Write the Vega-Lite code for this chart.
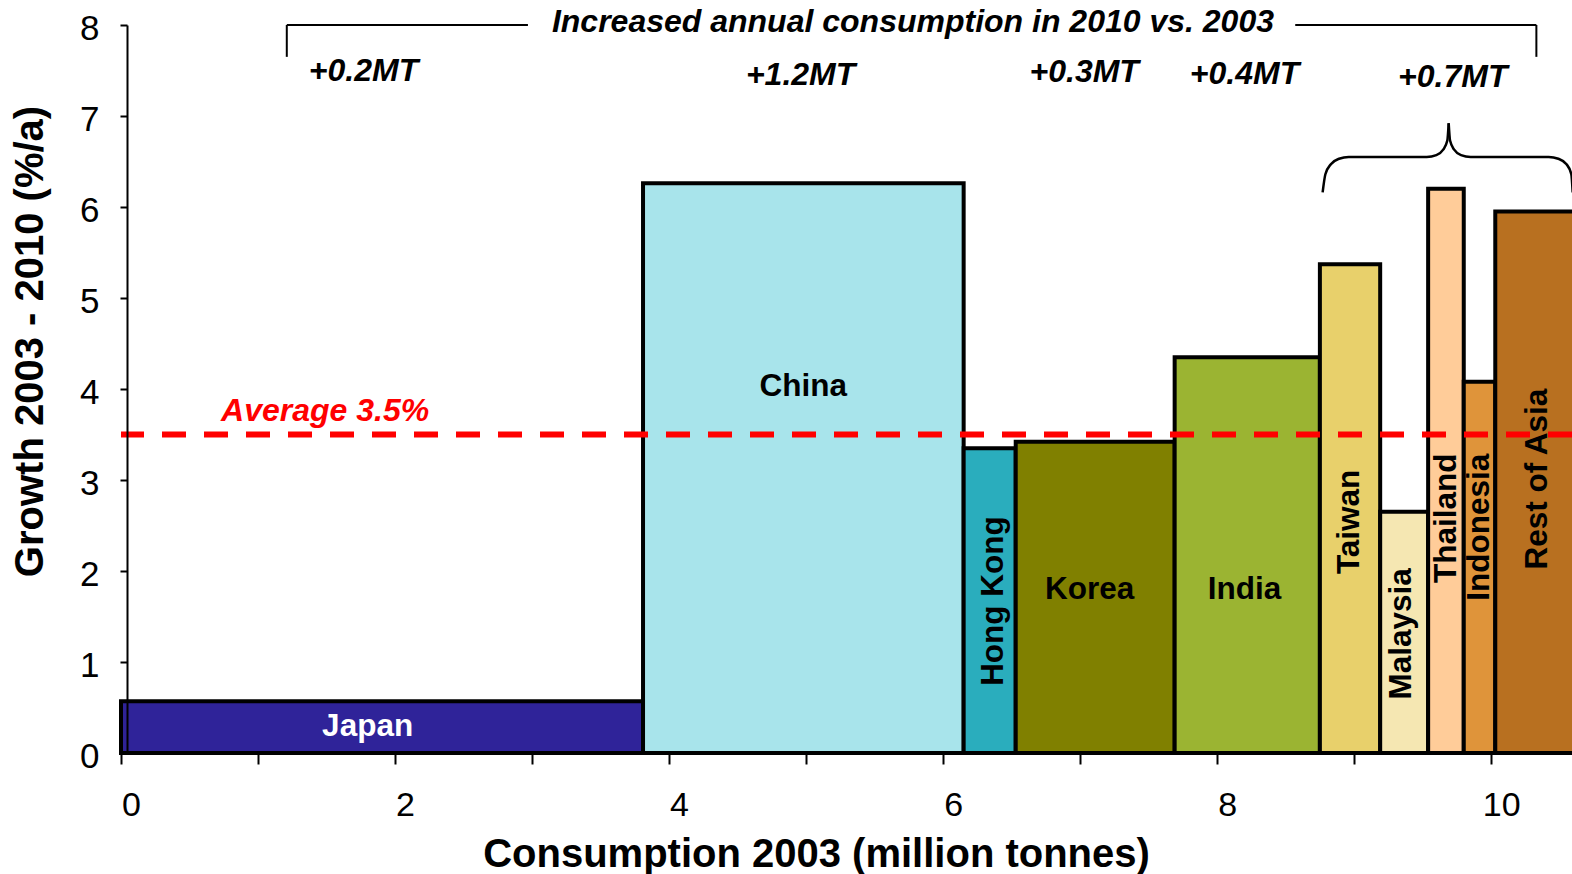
{
  "$schema": "https://vega.github.io/schema/vega-lite/v6.json",
  "width": 1451,
  "height": 728,
  "autosize": "none",
  "padding": {"left": 121, "top": 25, "right": 0, "bottom": 121},
  "background": "white",
  "config": {
    "view": {"stroke": null},
    "font": "Liberation Sans",
    "text": {"font": "Liberation Sans"}
  },
  "datasets": {
    "bars": [
      {"country": "Japan", "start": 0, "end": 3.81, "growth": 0.57},
      {"country": "China", "start": 3.81, "end": 6.15, "growth": 6.26},
      {"country": "Hong Kong", "start": 6.15, "end": 6.53, "growth": 3.35},
      {"country": "Korea", "start": 6.53, "end": 7.69, "growth": 3.42},
      {"country": "India", "start": 7.69, "end": 8.75, "growth": 4.35},
      {"country": "Taiwan", "start": 8.75, "end": 9.19, "growth": 5.37},
      {"country": "Malaysia", "start": 9.19, "end": 9.54, "growth": 2.65},
      {"country": "Thailand", "start": 9.54, "end": 9.8, "growth": 6.2},
      {"country": "Indonesia", "start": 9.8, "end": 10.03, "growth": 4.08},
      {"country": "Rest of Asia", "start": 10.03, "end": 10.62, "growth": 5.95}
    ],
    "barLabels": [
      {"country": "Japan", "lx": 1.8, "ly": 0.29},
      {"country": "China", "lx": 4.98, "ly": 4.02},
      {"country": "Hong Kong", "lx": 6.37, "ly": 1.67},
      {"country": "Korea", "lx": 7.07, "ly": 1.79},
      {"country": "India", "lx": 8.2, "ly": 1.79},
      {"country": "Taiwan", "lx": 8.97, "ly": 2.54},
      {"country": "Malaysia", "lx": 9.35, "ly": 1.31},
      {"country": "Thailand", "lx": 9.68, "ly": 2.58},
      {"country": "Indonesia", "lx": 9.92, "ly": 2.48},
      {"country": "Rest of Asia", "lx": 10.34, "ly": 3.01}
    ],
    "increase": [
      {"text": "Increased annual consumption in 2010 vs. 2003", "lx": 5.78, "ly": 8.03},
      {"text": "+0.2MT", "lx": 1.77, "ly": 7.49},
      {"text": "+1.2MT", "lx": 4.96, "ly": 7.45},
      {"text": "+0.3MT", "lx": 7.03, "ly": 7.48},
      {"text": "+0.4MT", "lx": 8.2, "ly": 7.46},
      {"text": "+0.7MT", "lx": 9.72, "ly": 7.43}
    ],
    "bracket": [
      {"x": 1.21, "x2": 1.21, "y": 7.65, "y2": 8.0},
      {"x": 1.21, "x2": 2.97, "y": 8.0, "y2": 8.0},
      {"x": 8.57, "x2": 10.33, "y": 8.0, "y2": 8.0},
      {"x": 10.33, "x2": 10.33, "y": 8.0, "y2": 7.65}
    ],
    "brace": [
      {"side": "left", "i": 0, "x": 8.77, "y": 6.16},
      {"side": "left", "i": 1, "x": 8.79, "y": 6.36},
      {"side": "left", "i": 2, "x": 8.83, "y": 6.47},
      {"side": "left", "i": 3, "x": 8.89, "y": 6.53},
      {"side": "left", "i": 4, "x": 8.96, "y": 6.55},
      {"side": "left", "i": 5, "x": 9.53, "y": 6.55},
      {"side": "left", "i": 6, "x": 9.6, "y": 6.57},
      {"side": "left", "i": 7, "x": 9.65, "y": 6.63},
      {"side": "left", "i": 8, "x": 9.68, "y": 6.73},
      {"side": "left", "i": 9, "x": 9.69, "y": 6.92},
      {"side": "right", "i": 0, "x": 9.69, "y": 6.92},
      {"side": "right", "i": 1, "x": 9.7, "y": 6.73},
      {"side": "right", "i": 2, "x": 9.73, "y": 6.63},
      {"side": "right", "i": 3, "x": 9.78, "y": 6.57},
      {"side": "right", "i": 4, "x": 9.85, "y": 6.55},
      {"side": "right", "i": 5, "x": 10.42, "y": 6.55},
      {"side": "right", "i": 6, "x": 10.49, "y": 6.53},
      {"side": "right", "i": 7, "x": 10.55, "y": 6.47},
      {"side": "right", "i": 8, "x": 10.585, "y": 6.36},
      {"side": "right", "i": 9, "x": 10.595, "y": 6.16}
    ],
    "average": [
      {"text": "Average 3.5%", "value": 3.5, "lx": 1.49, "ly": 3.76}
    ]
  },
  "layer": [
    {
      "data": {"name": "bars"},
      "mark": {"type": "rect", "stroke": "black", "strokeWidth": 4},
      "encoding": {
        "x": {
          "field": "start",
          "type": "quantitative",
          "title": "Consumption 2003 (million tonnes)",
          "scale": {"domain": [0, 10.59], "nice": false, "zero": true},
          "axis": {
            "title": "Consumption 2003 (million tonnes)",
            "values": [0, 1, 2, 3, 4, 5, 6, 7, 8, 9, 10],
            "format": "d",
            "labelExpr": "datum.value % 2 === 0 ? datum.label : ''",
            "grid": false,
            "domain": true,
            "domainColor": "black",
            "domainWidth": 2,
            "ticks": true,
            "tickColor": "black",
            "tickWidth": 2,
            "tickSize": 11,
            "labelFont": "Liberation Sans",
            "labelFontSize": 34,
            "labelColor": "black",
            "labelPadding": 24,
            "labelOffset": 10,
            "labelFlush": false,
            "labelOverlap": false,
            "titleFont": "Liberation Sans",
            "titleFontSize": 40,
            "titleFontWeight": "bold",
            "titleColor": "black",
            "titleAlign": "center",
            "titleBaseline": "alphabetic",
            "titleX": 695,
            "titleY": 113,
            "zindex": 1
          }
        },
        "x2": {"field": "end"},
        "y": {
          "field": "growth",
          "type": "quantitative",
          "title": "Growth 2003 - 2010 (%/a)",
          "scale": {"domain": [0, 8], "nice": false},
          "axis": {
            "title": "Growth 2003 - 2010 (%/a)",
            "values": [0, 1, 2, 3, 4, 5, 6, 7, 8],
            "format": "d",
            "grid": false,
            "offset": -6,
            "domain": true,
            "domainColor": "black",
            "domainWidth": 2,
            "ticks": true,
            "tickColor": "black",
            "tickWidth": 2,
            "tickSize": 7,
            "labelFont": "Liberation Sans",
            "labelFontSize": 35,
            "labelColor": "black",
            "labelPadding": 21,
            "labelOffset": 3,
            "labelOverlap": false,
            "titleFont": "Liberation Sans",
            "titleFontSize": 40,
            "titleFontWeight": "bold",
            "titleColor": "black",
            "titleAngle": 270,
            "titleAlign": "center",
            "titleBaseline": "alphabetic",
            "titleX": -85,
            "titleY": 316,
            "zindex": 1
          }
        },
        "y2": {"datum": 0},
        "fill": {
          "field": "country",
          "type": "nominal",
          "legend": null,
          "scale": {
            "domain": ["Japan", "China", "Hong Kong", "Korea", "India", "Taiwan", "Malaysia", "Thailand", "Indonesia", "Rest of Asia"],
            "range": ["#2F2399", "#A8E4EB", "#2AADBD", "#808000", "#9BB432", "#E8D06B", "#F5E7B2", "#FFCC99", "#DF943A", "#B87020"]
          }
        }
      }
    },
    {
      "data": {"name": "average"},
      "mark": {"type": "rule", "color": "#FF0000", "strokeWidth": 6, "strokeDash": [24, 18]},
      "encoding": {
        "y": {"field": "value", "type": "quantitative"}
      }
    },
    {
      "data": {"name": "average"},
      "mark": {"type": "text", "fontSize": 32, "fontWeight": "bold", "fontStyle": "italic", "color": "#FF0000", "align": "center", "baseline": "middle"},
      "encoding": {
        "x": {"field": "lx", "type": "quantitative"},
        "y": {"field": "ly", "type": "quantitative"},
        "text": {"field": "text"}
      }
    },
    {
      "data": {"name": "barLabels"},
      "transform": [{"filter": "indexof(['Japan', 'China', 'Korea', 'India'], datum.country) >= 0"}],
      "mark": {"type": "text", "fontSize": 31.5, "fontWeight": "bold", "align": "center", "baseline": "middle"},
      "encoding": {
        "x": {"field": "lx", "type": "quantitative"},
        "y": {"field": "ly", "type": "quantitative"},
        "text": {"field": "country"},
        "color": {"condition": {"test": "datum.country === 'Japan'", "value": "white"}, "value": "black"}
      }
    },
    {
      "data": {"name": "barLabels"},
      "transform": [{"filter": "indexof(['Japan', 'China', 'Korea', 'India'], datum.country) < 0"}],
      "mark": {"type": "text", "fontSize": 31.5, "fontWeight": "bold", "align": "center", "baseline": "middle", "angle": 270, "color": "black"},
      "encoding": {
        "x": {"field": "lx", "type": "quantitative"},
        "y": {"field": "ly", "type": "quantitative"},
        "text": {"field": "country"}
      }
    },
    {
      "data": {"name": "bracket"},
      "mark": {"type": "rule", "color": "black", "strokeWidth": 2},
      "encoding": {
        "x": {"field": "x", "type": "quantitative"},
        "x2": {"field": "x2"},
        "y": {"field": "y", "type": "quantitative"},
        "y2": {"field": "y2"}
      }
    },
    {
      "data": {"name": "brace"},
      "mark": {"type": "line", "color": "black", "strokeWidth": 2.5, "interpolate": "monotone"},
      "encoding": {
        "x": {"field": "x", "type": "quantitative"},
        "y": {"field": "y", "type": "quantitative"},
        "detail": {"field": "side"},
        "order": {"field": "i"}
      }
    },
    {
      "data": {"name": "increase"},
      "mark": {"type": "text", "fontSize": 32, "fontWeight": "bold", "fontStyle": "italic", "color": "black", "align": "center", "baseline": "middle"},
      "encoding": {
        "x": {"field": "lx", "type": "quantitative"},
        "y": {"field": "ly", "type": "quantitative"},
        "text": {"field": "text"}
      }
    }
  ]
}
